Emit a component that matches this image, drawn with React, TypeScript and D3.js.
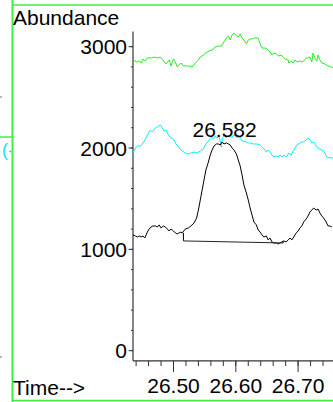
import React from "react";
import * as d3 from "d3";

const W = 333;
const H = 402;

// Green trace (time, abundance)
const greenTime = [26.437,26.440,26.445,26.448,26.451,26.454,26.458,26.464,26.469,26.474,26.479,26.484,26.488,26.493,26.496,26.500,26.503,26.506,26.509,26.512,26.516,26.521,26.525,26.530,26.535,26.540,26.543,26.548,26.552,26.557,26.562,26.567,26.572,26.577,26.581,26.585,26.588,26.591,26.594,26.597,26.601,26.604,26.607,26.610,26.613,26.617,26.620,26.623,26.626,26.629,26.636,26.639,26.642,26.647,26.650,26.655,26.658,26.661,26.665,26.669,26.673,26.676,26.679,26.684,26.685,26.689,26.692,26.695,26.698,26.703,26.706,26.709,26.713,26.716,26.719,26.722,26.724,26.727,26.730,26.732,26.735,26.738,26.743,26.748,26.753,26.756];
const greenValues = [2869,2849,2859,2839,2879,2859,2889,2889,2898,2889,2898,2859,2830,2869,2810,2879,2849,2800,2820,2839,2810,2810,2810,2800,2839,2869,2898,2918,2938,2958,2968,2997,3007,3007,3047,3086,3106,3066,3116,3135,3106,3096,3126,3086,3066,3027,3066,3076,3076,3086,3086,3027,2987,2987,2977,2948,2918,2938,2928,2908,2918,2898,2879,2869,2839,2859,2839,2869,2849,2859,2849,2859,2889,2889,2898,2849,2938,2889,2859,2918,2869,2839,2830,2810,2800,2790];

// Cyan trace
const cyanTime = [26.435,26.439,26.442,26.447,26.451,26.456,26.460,26.463,26.466,26.471,26.474,26.479,26.482,26.485,26.488,26.492,26.496,26.501,26.504,26.509,26.514,26.519,26.524,26.528,26.533,26.538,26.543,26.548,26.552,26.557,26.561,26.564,26.567,26.570,26.573,26.577,26.578,26.581,26.585,26.588,26.591,26.594,26.597,26.601,26.604,26.607,26.610,26.613,26.617,26.620,26.623,26.628,26.634,26.639,26.644,26.647,26.649,26.652,26.655,26.658,26.661,26.665,26.668,26.671,26.674,26.677,26.681,26.685,26.689,26.692,26.695,26.698,26.703,26.706,26.709,26.713,26.716,26.719,26.722,26.725,26.729,26.732,26.735,26.738,26.743,26.746,26.751,26.756];
const cyanValues = [1951,2000,2020,2020,2050,2099,2149,2178,2159,2198,2208,2228,2198,2168,2178,2129,2099,2079,2040,2000,1971,1951,1941,1951,1961,1951,1971,1990,2040,2079,2109,2089,2119,2099,2119,2010,2089,2129,2099,2119,2109,2109,2129,2109,2099,2109,2069,2069,2060,2050,2050,2040,2040,2030,2000,1981,1961,1981,1961,1931,1911,1921,1911,1931,1911,1931,1911,1951,1931,1971,2000,2030,2050,2060,2060,2079,2099,2079,2050,2060,2020,2000,1990,1981,1951,1911,1902,1902];

// Black trace (integrated)
const blackTime = [26.435,26.439,26.442,26.445,26.448,26.451,26.454,26.458,26.461,26.464,26.467,26.471,26.474,26.477,26.480,26.484,26.487,26.490,26.493,26.496,26.500,26.503,26.506,26.509,26.512,26.514,26.519,26.524,26.528,26.533,26.537,26.540,26.543,26.546,26.549,26.552,26.556,26.559,26.562,26.565,26.569,26.572,26.575,26.578,26.581,26.585,26.588,26.591,26.594,26.597,26.601,26.604,26.607,26.610,26.613,26.617,26.620,26.623,26.626,26.629,26.633,26.636,26.639,26.642,26.645,26.649,26.652,26.655,26.658,26.661,26.665,26.668,26.671,26.674,26.677,26.681,26.684,26.687,26.690,26.693,26.697,26.700,26.703,26.706,26.709,26.713,26.716,26.719,26.722,26.725,26.729,26.732,26.735,26.738,26.741,26.745,26.748,26.751,26.754];
const blackValues = [1142,1132,1122,1132,1122,1132,1112,1171,1201,1221,1231,1231,1221,1241,1211,1231,1221,1201,1181,1201,1181,1162,1152,1162,1171,1162,1201,1211,1231,1260,1309,1388,1487,1586,1685,1783,1862,1931,1981,2020,2040,2040,2030,2060,2040,2050,2040,2030,2000,1981,1941,1882,1823,1734,1635,1556,1487,1408,1339,1270,1241,1191,1171,1142,1122,1132,1093,1112,1073,1063,1063,1053,1063,1073,1083,1073,1093,1112,1093,1122,1162,1181,1211,1231,1270,1300,1329,1369,1388,1408,1388,1398,1359,1329,1309,1270,1231,1231,1221];

// Integration baseline
const baseStart = { t: 26.516, v: 1083, trace: 1162 };
const baseEnd = { t: 26.676, v: 1063, trace: 1080 };
const peakTime = 26.582;
const peakTop = 2060;
const peakLabel = "26.582";

const yMajor = [0, 1000, 2000, 3000];
const yMinor = d3.range(-0, 3001, 200);
const xMajor = [26.5, 26.6, 26.7];
const xMinor = d3.range(26.44, 26.757, 0.02);

export default function App() {
  const x = d3.scaleLinear().domain([26.435, 26.756]).range([133, 333]);
  const y = d3.scaleLinear().domain([-100, 3150]).range([360.8, 31.5]);
  const line = d3
    .line<[number, number]>()
    .x((d) => x(d[0]))
    .y((d) => y(d[1]));
  const mk = (t: number[], v: number[]) => t.map((tt, i) => [tt, v[i]] as [number, number]);
  const font = "'Liberation Sans', Arial, sans-serif";
  const green = "#3ef03e";
  const axisColor = "#333";
  return (
    <div style={{ position: "fixed", left: 0, top: 0 }}>
      <svg width={W} height={H} style={{ display: "block", background: "#fff" }} fontFamily={font}>
        {/* frame */}
        <line x1={12.5} x2={12.5} y1={0} y2={H} stroke={green} strokeWidth={2} />
        <line x1={12} x2={W} y1={5} y2={5} stroke={green} strokeWidth={1.5} />
        <line x1={12} x2={W} y1={400.5} y2={400.5} stroke={green} strokeWidth={1.5} />
        <line x1={0} x2={12} y1={137} y2={137} stroke={green} strokeWidth={1.5} />
        <text x={2} y={156} fontSize={18} fill="#22e0f0">(</text>
        <line x1={9} x2={11.5} y1={151.5} y2={151.5} stroke="#22e0f0" strokeWidth={1.5} />
        <line x1={0} x2={2} y1={97} y2={97} stroke="#777" strokeWidth={1} />
        <line x1={0} x2={2} y1={357} y2={357} stroke="#777" strokeWidth={1} />

        {/* labels */}
        <text x={13} y={25} fontSize={21} fill="#000">Abundance</text>
        <text x={13} y={395} fontSize={21} fill="#000">Time--&gt;</text>

        {/* y axis */}
        <line x1={133} x2={133} y1={31.5} y2={360.8} stroke={axisColor} strokeWidth={1.2} />
        {yMinor.map((v) => (
          <line key={"ym" + v} x1={131} x2={133} y1={y(v)} y2={y(v)} stroke={axisColor} strokeWidth={1} />
        ))}
        {yMajor.map((v) => (
          <g key={"yM" + v}>
            <line x1={128.5} x2={133} y1={y(v)} y2={y(v)} stroke={axisColor} strokeWidth={1} />
            <text x={127} y={y(v)} dy="0.36em" textAnchor="end" fontSize={21} fill="#000">
              {v}
            </text>
          </g>
        ))}

        {/* x axis */}
        <line x1={133} x2={333} y1={360.8} y2={360.8} stroke={axisColor} strokeWidth={1.2} />
        {xMinor.map((t) => (
          <line key={"xm" + t} x1={x(t)} x2={x(t)} y1={360.8} y2={366} stroke={axisColor} strokeWidth={1} />
        ))}
        {xMajor.map((t) => (
          <g key={"xM" + t}>
            <line x1={x(t)} x2={x(t)} y1={360.8} y2={372} stroke={axisColor} strokeWidth={1} />
            <text x={x(t)} y={392.5} textAnchor="middle" fontSize={21} fill="#000">
              {t.toFixed(2)}
            </text>
          </g>
        ))}

        {/* traces */}
        <path d={line(mk(greenTime, greenValues)) || ""} fill="none" stroke="#22ee22" strokeWidth={1} />
        <path d={line(mk(cyanTime, cyanValues)) || ""} fill="none" stroke="#00f0ff" strokeWidth={1} />
        <path d={line(mk(blackTime, blackValues)) || ""} fill="none" stroke="#000" strokeWidth={1} />

        {/* baseline */}
        <line x1={x(baseStart.t)} x2={x(baseStart.t)} y1={y(baseStart.trace)} y2={y(baseStart.v)} stroke="#000" strokeWidth={1} />
        <line x1={x(baseStart.t)} x2={x(baseEnd.t)} y1={y(baseStart.v)} y2={y(baseEnd.v)} stroke="#222" strokeWidth={1} />
        <line x1={x(baseEnd.t)} x2={x(baseEnd.t)} y1={y(baseEnd.v)} y2={y(baseEnd.trace)} stroke="#000" strokeWidth={1} />

        <text x={x(peakTime)} y={y(peakTop) - 5} textAnchor="middle" fontSize={21} fill="#000">
          {peakLabel}
        </text>
      </svg>
    </div>
  );
}
